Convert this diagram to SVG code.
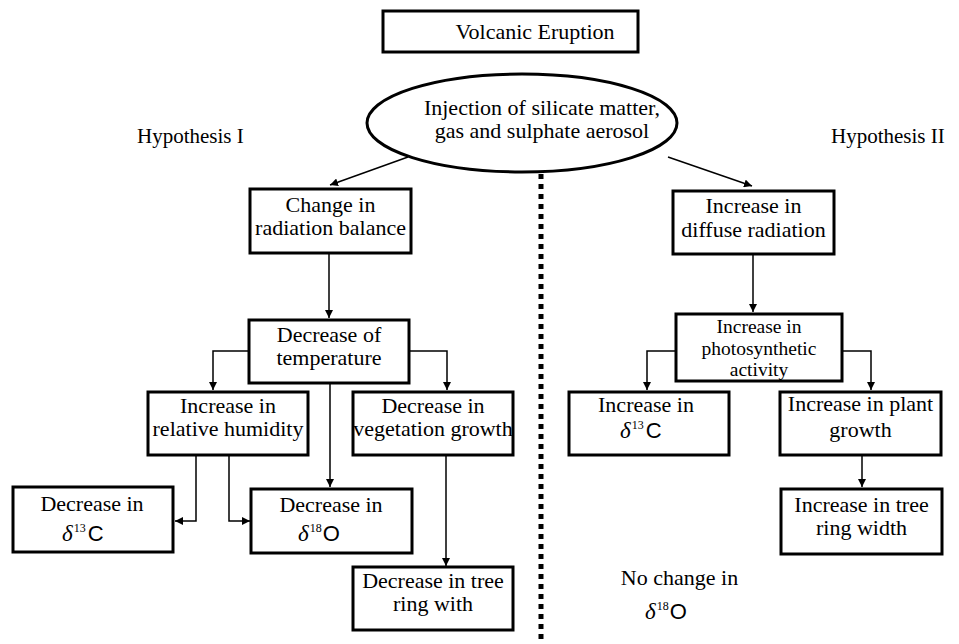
<svg xmlns="http://www.w3.org/2000/svg" width="959" height="644" viewBox="0 0 959 644">
<style>
.box{fill:#fff;stroke:#000;stroke-width:3}
.t{font-family:"Liberation Serif","Times New Roman",serif;font-size:22px;fill:#000;text-anchor:middle}
.ts{font-family:"Liberation Serif","Times New Roman",serif;font-size:19.5px;fill:#000;text-anchor:middle}
.tl{font-family:"Liberation Serif","Times New Roman",serif;font-size:21px;fill:#000}
.d{font-family:"Liberation Serif","Times New Roman",serif;font-style:italic;font-size:23px}
.sup{font-family:"Liberation Serif","Times New Roman",serif;font-size:12px}
.sans{font-family:"Liberation Sans",Arial,sans-serif;font-size:22px}
.c{fill:none;stroke:#000;stroke-width:1.5}
</style>
<defs>
<marker id="ah" viewBox="0 0 10 10" refX="10" refY="5" markerWidth="8" markerHeight="8" markerUnits="userSpaceOnUse" orient="auto">
<path d="M0,0 L10,5 L0,10 Z" fill="#000"/>
</marker>
</defs>
<g id="connectors">
<line x1="541" y1="174" x2="541" y2="644" stroke="#000" stroke-width="5" stroke-dasharray="5 5"/>
<path class="c" d="M408,157 L330,185" marker-end="url(#ah)"/>
<path class="c" d="M668,157 L752,186" marker-end="url(#ah)"/>
<path class="c" d="M329,253 L329,318" marker-end="url(#ah)"/>
<path class="c" d="M249,351 L213,351 L213,390" marker-end="url(#ah)"/>
<path class="c" d="M409,351 L447,351 L447,390" marker-end="url(#ah)"/>
<path class="c" d="M330,383 L330,487" marker-end="url(#ah)"/>
<path class="c" d="M196,455 L196,521 L175,521" marker-end="url(#ah)"/>
<path class="c" d="M229,455 L229,521 L250,521" marker-end="url(#ah)"/>
<path class="c" d="M446,455 L446,566" marker-end="url(#ah)"/>
<path class="c" d="M753,254 L753,312" marker-end="url(#ah)"/>
<path class="c" d="M676,351 L647,351 L647,390" marker-end="url(#ah)"/>
<path class="c" d="M842,351 L871,351 L871,390" marker-end="url(#ah)"/>
<path class="c" d="M862,455 L862,487" marker-end="url(#ah)"/>
</g>
<g id="volcanic">
<rect class="box" x="383" y="11" width="255" height="41"/>
<text class="t" x="535" y="39">Volcanic Eruption</text>
</g>
<g id="injection">
<ellipse cx="522" cy="123" rx="155" ry="49" fill="#fff" stroke="#000" stroke-width="3"/>
<text class="t" x="542" y="115">Injection of silicate matter,</text>
<text class="t" x="542" y="138">gas and sulphate aerosol</text>
</g>
<g id="hyp1"><text class="tl" x="137" y="143">Hypothesis I</text></g>
<g id="hyp2"><text class="tl" x="831" y="143">Hypothesis II</text></g>
<g id="change">
<rect class="box" x="250" y="189" width="161" height="64"/>
<text class="t" x="330.5" y="212">Change in</text>
<text class="t" x="330.5" y="235">radiation balance</text>
</g>
<g id="temp">
<rect class="box" x="249" y="320" width="160" height="63"/>
<text class="t" x="329" y="342">Decrease of</text>
<text class="t" x="329" y="365">temperature</text>
</g>
<g id="humidity">
<rect class="box" x="148" y="392" width="160" height="63"/>
<text class="t" x="228" y="413">Increase in</text>
<text class="t" x="228" y="436">relative humidity</text>
</g>
<g id="vegetation">
<rect class="box" x="353" y="392" width="160" height="63"/>
<text class="t" x="433" y="413">Decrease in</text>
<text class="t" x="433" y="436">vegetation growth</text>
</g>
<g id="dec13c">
<rect class="box" x="13" y="487" width="160" height="65"/>
<text class="t" x="92" y="511">Decrease in</text>
<text x="62" y="541"><tspan class="d">δ</tspan><tspan class="sup" dx="1" dy="-9">13</tspan><tspan class="sans" dx="2" dy="9">C</tspan></text>
</g>
<g id="dec18o">
<rect class="box" x="251" y="489" width="161" height="64"/>
<text class="t" x="331" y="512">Decrease in</text>
<text x="298" y="541"><tspan class="d">δ</tspan><tspan class="sup" dx="1" dy="-9">18</tspan><tspan class="sans" dx="1" dy="9">O</tspan></text>
</g>
<g id="treering1">
<rect class="box" x="353" y="567" width="160" height="63"/>
<text class="t" x="433" y="588">Decrease in tree</text>
<text class="t" x="433" y="611">ring with</text>
</g>
<g id="diffuse">
<rect class="box" x="673" y="191" width="161" height="63"/>
<text class="t" x="753.5" y="213">Increase in</text>
<text class="t" x="753.5" y="237">diffuse radiation</text>
</g>
<g id="photo">
<rect class="box" x="676" y="314" width="166" height="67"/>
<text class="ts" x="759" y="333">Increase in</text>
<text class="ts" x="759" y="355">photosynthetic</text>
<text class="ts" x="759" y="376">activity</text>
</g>
<g id="inc13c">
<rect class="box" x="569" y="392" width="160" height="63"/>
<text class="t" x="646" y="412">Increase in</text>
<text x="620" y="438"><tspan class="d">δ</tspan><tspan class="sup" dx="1" dy="-9">13</tspan><tspan class="sans" dx="2" dy="9">C</tspan></text>
</g>
<g id="plant">
<rect class="box" x="780" y="392" width="161" height="63"/>
<text class="t" x="860.5" y="411">Increase in plant</text>
<text class="t" x="860.5" y="437">growth</text>
</g>
<g id="treering2">
<rect class="box" x="781" y="489" width="161" height="65"/>
<text class="t" x="861.5" y="512">Increase in tree</text>
<text class="t" x="861.5" y="535">ring width</text>
</g>
<g id="nochange">
<text class="t" x="679.5" y="585">No change in</text>
<text x="645" y="619"><tspan class="d">δ</tspan><tspan class="sup" dx="1" dy="-9">18</tspan><tspan class="sans" dx="1" dy="9">O</tspan></text>
</g>
</svg>
